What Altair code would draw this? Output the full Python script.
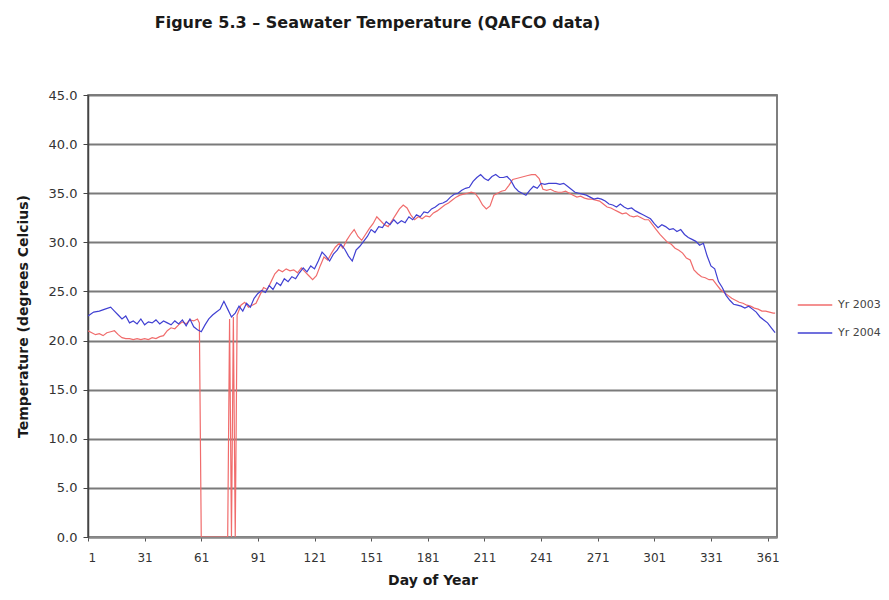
import altair as alt
import pandas as pd

# ---- data ----
days_2004 = [1, 4, 7, 10, 13, 15, 17, 19, 21, 23, 25, 27, 29, 31, 33, 35, 37, 39, 41, 43, 45, 47, 49, 51, 53, 55, 57, 59,
             61, 63, 65, 67, 69, 71, 73, 75, 77, 79, 81, 83, 85, 87, 89, 91, 93, 95, 97, 99, 101, 103, 105, 107, 109,
             111, 113, 115, 117, 119, 121, 123, 125, 127, 129, 131, 133, 135, 137, 139, 141, 143, 145, 147, 149, 151,
             153, 155, 157, 159, 161, 163, 165, 167, 169, 171, 173, 175, 177, 179, 181, 183, 185, 187, 189, 191, 193,
             195, 197, 199, 201, 203, 205, 207, 209, 211, 213, 215, 217, 219, 221, 223, 225, 227, 229, 231, 233, 235,
             237, 239, 241, 243, 245, 247, 249, 251, 253, 255, 257, 259, 261, 263, 265, 267, 269, 271, 273, 275, 277,
             279, 281, 283, 285, 287, 289, 291, 293, 295, 297, 299, 301, 303, 305, 307, 309, 311, 313, 315, 317, 319,
             321, 323, 325, 327, 329, 331, 333, 335, 337, 339, 341, 343, 345, 347, 349, 351, 353, 355, 357, 359, 361,
             363, 365]
temp_2004 = [22.5, 22.9, 23.0, 23.2, 23.4, 23.0, 22.6, 22.2, 22.5, 21.8, 22.0, 21.7, 22.2, 21.6, 21.9, 21.8, 22.1, 21.7,
             22.0, 21.8, 21.6, 22.0, 21.7, 22.1, 21.5, 22.2, 21.4, 21.1, 20.9, 21.6, 22.2, 22.6, 22.9, 23.2, 24.0, 23.2,
             22.4, 22.8, 23.5, 23.0, 23.8, 23.4, 24.3, 24.8, 25.1, 24.9, 25.6, 25.2, 25.9, 25.6, 26.3, 26.0, 26.5, 26.3,
             26.9, 27.4, 27.0, 27.6, 27.3, 28.1, 29.0, 28.6, 28.1, 28.8, 29.2, 29.8, 29.3, 28.6, 28.1, 29.2, 29.6, 30.1,
             30.6, 31.3, 31.0, 31.6, 31.5, 32.1, 31.8, 32.3, 31.9, 32.2, 32.0, 32.6, 32.3, 32.8, 32.6, 33.1, 33.0, 33.4,
             33.6, 33.9, 34.0, 34.2, 34.6, 34.9, 35.0, 35.3, 35.5, 35.6, 36.2, 36.6, 36.9, 36.5, 36.3, 36.7, 36.9, 36.6,
             36.6, 36.7, 36.3, 35.6, 35.2, 35.0, 34.8, 35.3, 35.7, 35.5, 36.0, 35.9, 36.0, 36.0, 36.0, 35.9, 36.0, 35.7,
             35.4, 35.1, 35.0, 34.9, 34.8, 34.6, 34.4, 34.5, 34.4, 34.2, 33.9, 33.8, 33.6, 33.9, 33.6, 33.4, 33.5, 33.2,
             33.0, 32.8, 32.6, 32.4, 31.9, 31.5, 31.8, 31.6, 31.3, 31.4, 31.1, 31.3, 30.8, 30.5, 30.3, 30.1, 29.7, 29.9,
             28.6, 27.6, 27.3, 26.0, 25.4, 24.6, 24.1, 23.7, 23.6, 23.5, 23.3, 23.5, 23.2, 22.9, 22.4, 22.1, 21.8, 21.3,
             20.8]

days_2003 = [1, 3, 5, 7, 9, 11, 13, 15, 17, 19, 21, 23, 25, 27, 29, 31, 33, 35, 37, 39, 41, 43, 45, 47, 49, 51, 53, 55,
             57, 59, 60, 61, 63, 65, 67, 69, 71, 73, 75, 76, 77, 78, 79, 80, 82, 84, 86, 88, 90, 92, 94, 96, 98, 100,
             102, 104, 106, 108, 110, 112, 114, 116, 118, 120, 122, 124, 126, 128, 130, 132, 134, 136, 138, 140, 142,
             144, 146, 148, 150, 152, 154, 156, 158, 160, 162, 164, 166, 168, 170, 172, 174, 176, 178, 180, 182, 184,
             186, 188, 190, 192, 194, 196, 198, 200, 202, 204, 206, 208, 210, 212, 214, 216, 218, 220, 222, 224, 226,
             228, 230, 232, 234, 236, 238, 240, 242, 244, 246, 248, 250, 252, 254, 256, 258, 260, 262, 264, 266, 268,
             270, 272, 274, 276, 278, 280, 282, 284, 286, 288, 290, 292, 294, 296, 298, 300, 302, 304, 306, 308, 310,
             312, 314, 316, 318, 320, 322, 324, 326, 328, 330, 332, 334, 336, 338, 340, 342, 344, 346, 348, 350, 352,
             354, 356, 358, 360, 362, 364, 365]
temp_2003 = [21.0, 20.8, 20.6, 20.7, 20.5, 20.8, 20.9, 21.0, 20.6, 20.3, 20.2, 20.2, 20.1, 20.2, 20.1, 20.2, 20.1, 20.3,
             20.2, 20.4, 20.5, 21.0, 21.3, 21.2, 21.6, 21.9, 21.7, 22.1, 22.0, 22.2, 21.8, 0.0, 0.0, 0.0, 0.0, 0.0, 0.0,
             0.0, 0.0, 22.2, 0.0, 22.4, 0.0, 22.6, 23.6, 23.9, 23.4, 23.6, 23.8, 24.6, 25.4, 25.2, 26.0, 26.8, 27.2,
             27.0, 27.3, 27.1, 27.2, 26.9, 27.4, 27.0, 26.6, 26.2, 26.6, 27.6, 28.5, 28.2, 28.9, 29.5, 29.9, 29.4, 30.2,
             30.8, 31.3, 30.6, 30.2, 30.8, 31.4, 31.9, 32.6, 32.2, 31.8, 31.6, 32.2, 32.8, 33.4, 33.8, 33.5, 32.8, 32.3,
             32.6, 32.4, 32.7, 32.6, 33.0, 33.2, 33.5, 33.8, 34.0, 34.3, 34.6, 34.8, 34.9, 35.0, 35.1, 35.0, 34.5, 33.8,
             33.4, 33.7, 34.8, 35.0, 35.2, 35.3, 35.8, 36.4, 36.5, 36.6, 36.7, 36.8, 36.9, 36.9, 36.5, 35.4, 35.3, 35.4,
             35.2, 35.1, 35.1, 35.2, 35.0, 34.8, 34.6, 34.7, 34.5, 34.4, 34.4, 34.3, 34.2, 33.9, 33.6, 33.5, 33.3, 33.1,
             32.9, 33.0, 32.7, 32.6, 32.7, 32.5, 32.3, 32.3, 31.8, 31.3, 30.8, 30.4, 30.0, 29.8, 29.4, 29.2, 28.9, 28.4,
             28.2, 27.2, 26.8, 26.5, 26.4, 26.2, 26.2, 25.7, 25.2, 24.9, 24.6, 24.3, 24.1, 23.9, 23.8, 23.6, 23.5, 23.3,
             23.2, 23.0, 23.0, 22.9, 22.8, 22.8]

series_names = ["Yr 2003", "Yr 2004"]
series_colors = ["#F06C6C", "#4040D2"]
x_ticks = [1, 31, 61, 91, 121, 151, 181, 211, 241, 271, 301, 331, 361]
y_ticks = [0, 5, 10, 15, 20, 25, 30, 35, 40, 45]

df = pd.concat([
    pd.DataFrame({"day": days_2003, "temp": temp_2003, "series": series_names[0]}),
    pd.DataFrame({"day": days_2004, "temp": temp_2004, "series": series_names[1]}),
])

FONT = "DejaVu Sans"

chart = alt.Chart(df).mark_line(strokeWidth=1.2, clip=True).encode(
    x=alt.X("day:Q",
            scale=alt.Scale(domain=[1, 366], nice=False, zero=False),
            axis=alt.Axis(values=x_ticks, title="Day of Year", grid=False,
                          domainColor="#8a8a8a", domainWidth=2,
                          tickColor="#555", tickSize=4, labelPadding=11,
                          labelFontSize=12, labelColor="#333",
                          titleFontSize=14, titleFontWeight="bold", titleColor="#1a1a1a",
                          titlePadding=10)),
    y=alt.Y("temp:Q",
            scale=alt.Scale(domain=[0, 45], nice=False),
            axis=alt.Axis(values=y_ticks, format=".1f", title="Temperature (degrees Celcius)",
                          grid=True, gridColor="#7a7a7a", gridWidth=2,
                          domainColor="#444", domainWidth=1.5,
                          tickColor="#444", tickSize=5, labelPadding=6,
                          labelFontSize=13, labelColor="#333",
                          titleFontSize=14, titleFontWeight="bold", titleColor="#1a1a1a",
                          titlePadding=18)),
    color=alt.Color("series:N",
                    scale=alt.Scale(domain=series_names, range=series_colors),
                    legend=alt.Legend(title=None, orient="none", legendX=709, legendY=203,
                                      symbolType="stroke", symbolSize=1190, symbolStrokeWidth=1.5,
                                      clipHeight=14, rowPadding=14, padding=0,
                                      labelFontSize=11, labelColor="#444", labelOffset=5)),
).properties(
    width=689,
    height=442,
    title=alt.TitleParams("Figure 5.3 – Seawater Temperature (QAFCO data)",
                          fontSize=16, fontWeight="bold", color="#1a1a1a",
                          anchor="middle", dx=-55, offset=58),
    autosize=alt.AutoSizeParams(type="none"),
    padding={"left": 80, "top": 87, "right": 104, "bottom": 55},
).configure(font=FONT).configure_view(stroke="#555", strokeWidth=1.5)

chart.save("out.html", embed_options={"renderer": "svg", "actions": False})
